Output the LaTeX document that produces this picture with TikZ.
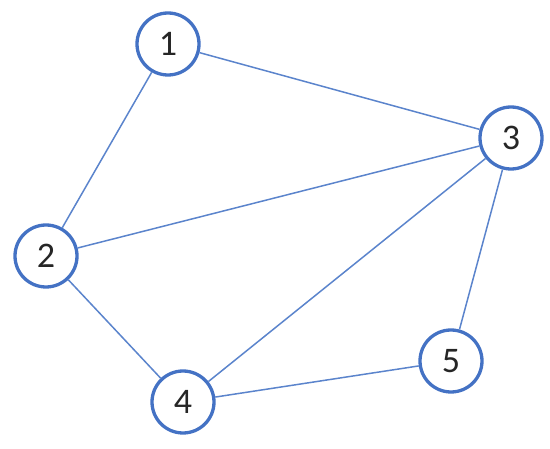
\documentclass[tikz,border=0pt]{standalone}
\usepackage{fontspec}
\setmainfont{Carlito}
\definecolor{nodeblue}{HTML}{4472C4}
\definecolor{edgeblue}{HTML}{5B84CC}
\tikzset{
  vert/.style={circle, draw=nodeblue, line width=3.3pt, fill=white, minimum size=62pt, inner sep=0pt, font=\fontsize{36}{40}\selectfont, text=black!85},
  edge/.style={draw=edgeblue, line width=1.5pt}
}
\begin{document}
\begin{tikzpicture}[x=1pt, y=-1pt]
\useasboundingbox (0,0) rectangle (550,449);
\node[vert] (n1) at (168,44) {1};
\node[vert] (n3) at (511,138) {3};
\node[vert] (n2) at (46,256) {2};
\node[vert] (n4) at (183,402) {4};
\node[vert] (n5) at (451,361) {5};
\draw[edge] (n1) -- (n3);
\draw[edge] (n1) -- (n2);
\draw[edge] (n2) -- (n3);
\draw[edge] (n2) -- (n4);
\draw[edge] (n4) -- (n3);
\draw[edge] (n4) -- (n5);
\draw[edge] (n5) -- (n3);
\end{tikzpicture}
\end{document}
